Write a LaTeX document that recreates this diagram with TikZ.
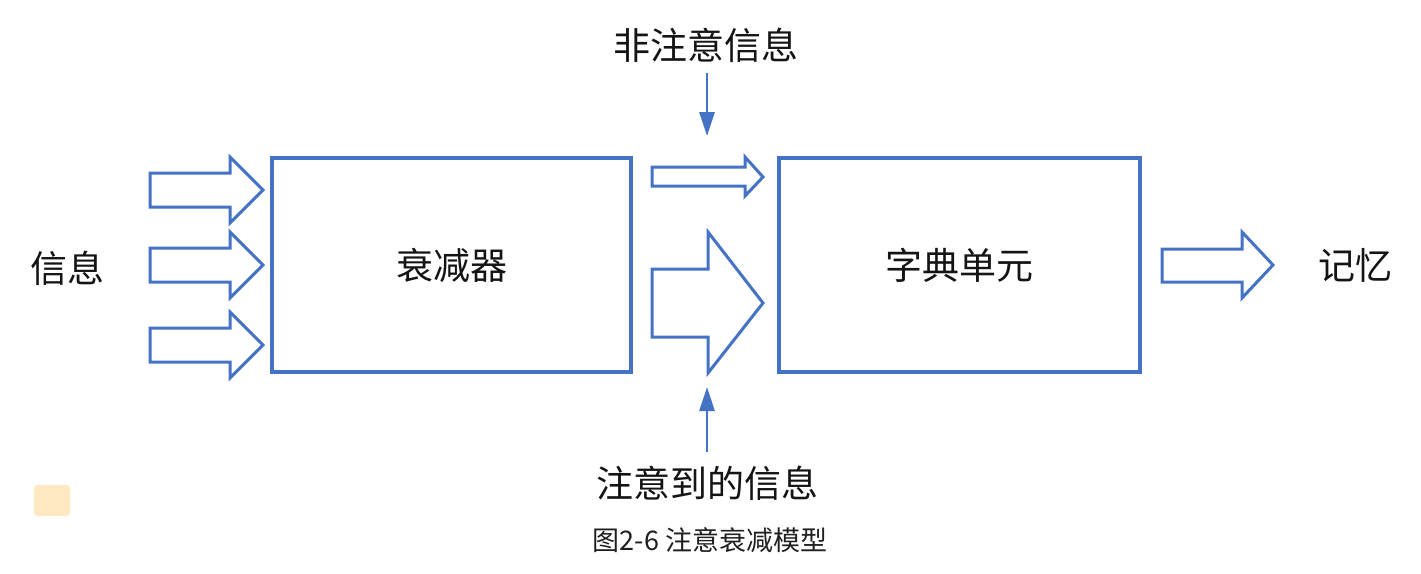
\documentclass[tikz,border=0pt]{standalone}
\usepackage{fontspec}
\newfontfamily\cjk{Noto Sans CJK SC}
\usetikzlibrary{arrows.meta}
\definecolor{bl}{HTML}{4472C4}
\definecolor{patch}{HTML}{FFE8C2}
\tikzset{
  box/.style={draw=bl, line width=3.6pt, fill=white},
  fat/.style={draw=bl, line width=3pt, fill=white, line join=miter},
  thinarrow/.style={draw=bl, line width=2.8pt, -{Triangle[length=24pt,width=15pt]}},
  lab/.style={font=\cjk\fontsize{37}{44}\selectfont, text=black!92, inner sep=0pt},
  captext/.style={font=\cjk\fontsize{27}{32}\selectfont, text=black!88, inner sep=0pt}
}
\begin{document}
\begin{tikzpicture}[x=1pt,y=-1pt]
\useasboundingbox (0,0) rectangle (1421,573);
% boxes
\draw[box] (272,158) rectangle (631,372);
\node[lab] (att) at (451.5,265) {衰减器};
\draw[box] (779,158) rectangle (1140,372);
\node[lab] (dict) at (959.5,265) {字典单元};
\node[lab] (info) at (67,268) {信息};
\node[lab] (mem) at (1355,265) {记忆};
\node[lab] (non) at (706,45) {非注意信息};
\node[lab] (got) at (707,483) {注意到的信息};
\node[captext] (caption) at (710,540) {图2-6 注意衰减模型};
% left block arrows
\foreach \c in {190,265,345}{
  \draw[fat] (150,\c-17) -- (230,\c-17) -- (230,\c-33) -- (263,\c) -- (230,\c+33) -- (230,\c+17) -- (150,\c+17) -- cycle;
}
% small arrow
\draw[fat] (652,167) -- (745,167) -- (745,157) -- (763,177) -- (745,196) -- (745,186) -- (652,186) -- cycle;
% big arrow
\draw[fat] (652,269) -- (708,269) -- (708,232) -- (763,303) -- (708,373) -- (708,337) -- (652,337) -- cycle;
% right arrow
\draw[fat] (1162,249) -- (1242,249) -- (1242,232) -- (1273,265) -- (1242,298) -- (1242,282) -- (1162,282) -- cycle;
% thin arrows
\coordinate (t1) at (707,73);
\coordinate (t2) at (707,136);
\coordinate (b1) at (707,452);
\coordinate (b2) at (707,387);
\draw[thinarrow] (t1) -- (t2);
\draw[thinarrow] (b1) -- (b2);
% patch
\fill[patch, rounded corners=3pt] (34,485) rectangle (70,516);
\end{tikzpicture}
\end{document}
